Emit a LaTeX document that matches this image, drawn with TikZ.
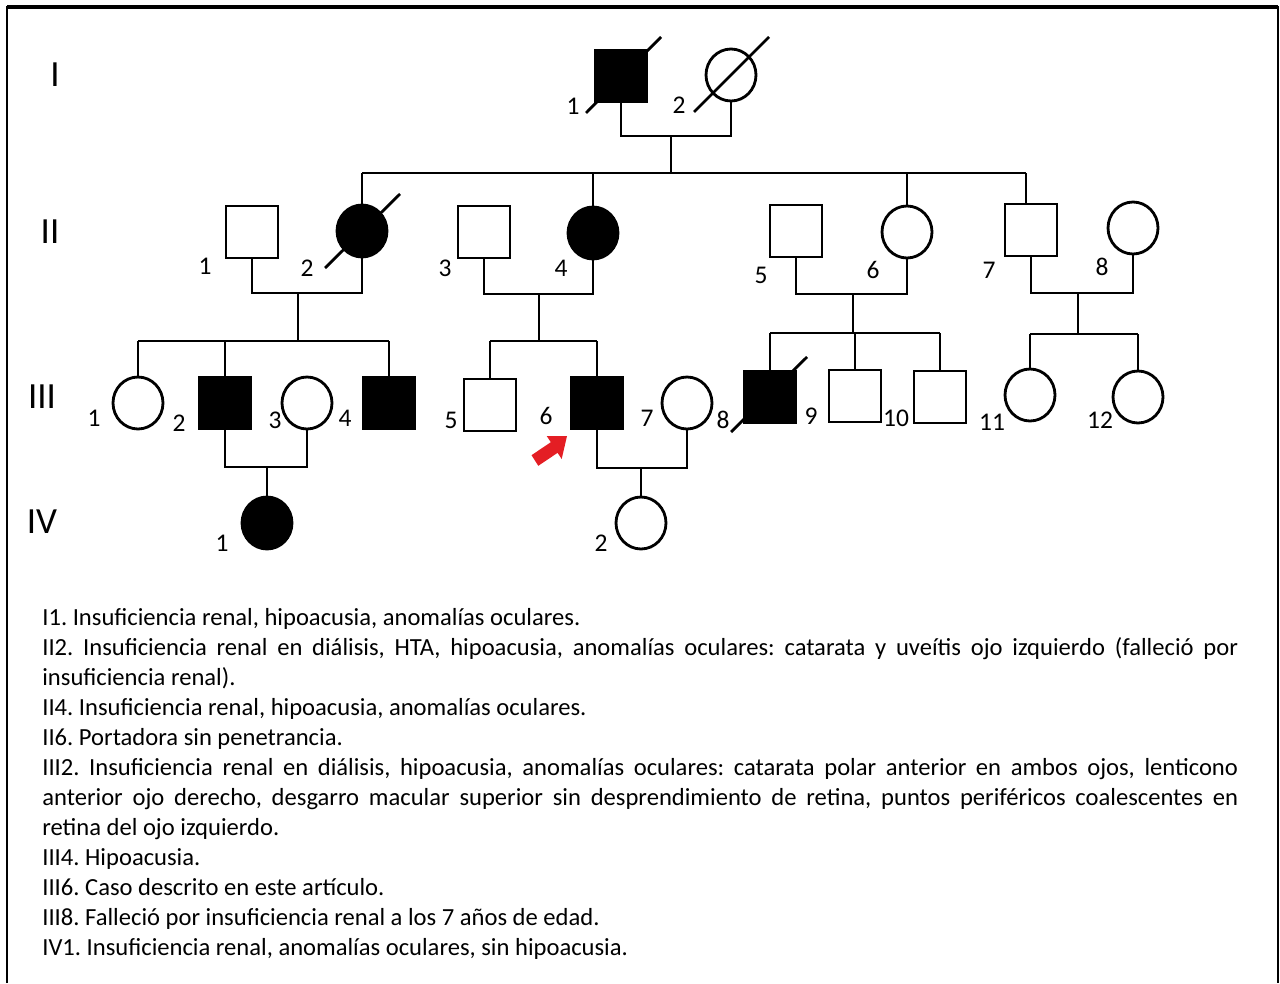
\documentclass[tikz,border=0pt]{standalone}
\usepackage{fontspec}
\setmainfont{Carlito}
\usetikzlibrary{shapes.geometric}
\definecolor{arrowred}{RGB}{228,30,36}
\setlength{\parindent}{0pt}
\frenchspacing

\tikzset{
  male/.style={draw, rectangle, minimum size=1.04cm, inner sep=0pt, line width=1.6pt},
  female/.style={draw, ellipse, minimum width=1cm, minimum height=1.04cm, inner sep=0pt, line width=1.6pt},
  affected/.style={fill=black},
  lbl/.style={font=\fontsize{14.5}{16}\selectfont, inner sep=0pt},
  gen/.style={font=\fontsize{21}{24}\selectfont, inner sep=0pt},
  link/.style={line width=1.6pt},
  dead/.style={line width=1.6pt},
  legend/.style={text width=23.92cm, inner sep=0pt, align=justify,
    font=\fontsize{14}{17.07}\selectfont},
}

\begin{document}
\begin{tikzpicture}[x=0.02cm,y=-0.02cm]
    \useasboundingbox (0,0) rectangle (1280,983);
    % frame
    \draw[line width=1.2pt] (7,983) -- (7,7) -- (1278,7) -- (1278,983);
    \draw[line width=1.8pt] (7,7) -- (1278,7);

    % generations
    \node[gen] (gI) at (55,75) {I};
    \node[gen] (gII) at (50,232) {II};
    \node[gen] (gIII) at (42,397) {III};
    \node[gen] (gIV) at (42,522) {IV};

    % first line
    \node[male,affected] (I1) at (621,76) {};
    \node[female] (I2) at (731,75) {};
    \node[lbl] (nI1) at (573,106) {1};
    \node[lbl] (nI2) at (679,105) {2};
    \draw[dead] ([shift={(-35,37)}]I1.center) -- ([shift={(40,-39)}]I1.center);
    \draw[dead] ([shift={(-37,37)}]I2.center) -- ([shift={(38,-38)}]I2.center);

    % sec line
    \node[male] (II1) at (252,232) {};
    \node[female,affected] (II2) at (362,231) {};
    \node[male] (II3) at (484,232) {};
    \node[female,affected] (II4) at (593,233) {};
    \node[male] (II5) at (796,231) {};
    \node[female] (II6) at (907,232) {};
    \node[male] (II7) at (1031,230) {};
    \node[female] (II8) at (1133,228) {};
    \node[lbl] (nII1) at (205,266) {1};
    \node[lbl] (nII2) at (307,268) {2};
    \node[lbl] (nII3) at (445,268) {3};
    \node[lbl] (nII4) at (561,268) {4};
    \node[lbl] (nII5) at (761,275) {5};
    \node[lbl] (nII6) at (873,270) {6};
    \node[lbl] (nII7) at (989,270) {7};
    \node[lbl] (nII8) at (1102,267) {8};
    \draw[dead] ([shift={(-37,37)}]II2.center) -- ([shift={(38,-37)}]II2.center);

    % third line
    \node[female] (III1) at (138,403) {};
    \node[male,affected] (III2) at (225,403) {};
    \node[female] (III3) at (307,403) {};
    \node[male,affected] (III4) at (389,403) {};
    \node[male] (III5) at (490,405) {};
    \node[male,affected] (III6) at (597,403) {};
    \node[female] (III7) at (687,403) {};
    \node[male,affected] (III8) at (770,397) {};
    \node[male] (III9) at (855,396) {};
    \node[male] (III10) at (940,397) {};
    \node[female] (III11) at (1030,395) {};
    \node[female] (III12) at (1138,397) {};
    \node[lbl] (nIII1) at (94,418) {1};
    \node[lbl] (nIII2) at (179,423) {2};
    \node[lbl] (nIII3) at (275,420) {3};
    \node[lbl] (nIII4) at (345,418) {4};
    \node[lbl] (nIII5) at (451,420) {5};
    \node[lbl] (nIII6) at (546,416) {6};
    \node[lbl] (nIII7) at (647,418) {7};
    \node[lbl] (nIII8) at (723,420) {8};
    \node[lbl] (nIII9) at (811,416) {9};
    \node[lbl] (nIII10) at (896,418) {10};
    \node[lbl] (nIII11) at (992,422) {11};
    \node[lbl] (nIII12) at (1100,420) {12};
    \draw[dead] ([shift={(-39,35)}]III8.center) -- ([shift={(37,-40)}]III8.center);
    % proband arrow
    \coordinate (tip) at (567,436);
    \fill[arrowred] (tip) -- (561.7,459) -- (557.6,452.8) -- (538.3,465.8)
        -- (531.5,455.2) -- (550.8,442.2) -- (546.7,436) -- cycle;

    % fourth line
    \node[female,affected] (IV1) at (267,523) {};
    \node[female] (IV2) at (641,523) {};
    \node[lbl] (nIV1) at (222,543) {1};
    \node[lbl] (nIV2) at (601,543) {2};

    % marriages and sibships
    \coordinate (mI) at (671,136);
    \coordinate (sI) at (671,173);
    \draw[link] (I1.south) |- (mI) -| (I2.south);
    \draw[link] (mI) -- (sI);
    \draw[link] (II2.north |- sI) -- ([xshift=-0.1cm]II7.north |- sI);
    \foreach \n in {II2,II4,II6}
        \draw[link] (\n.north) -- (\n.north |- sI);
    \draw[link] ([xshift=-0.1cm]II7.north) -- ([xshift=-0.1cm]II7.north |- sI);

    \coordinate (mII12) at (298,293);
    \coordinate (sII12) at (298,341);
    \draw[link] (II1.south) |- (mII12) -| (II2.south);
    \draw[link] (mII12) -- (sII12);
    \draw[link] (III1.north |- sII12) -- (III4.north |- sII12);
    \foreach \n in {III1,III2,III4}
        \draw[link] (\n.north) -- (\n.north |- sII12);

    \coordinate (mII34) at (539,294);
    \coordinate (sII34) at (539,341);
    \draw[link] (II3.south) |- (mII34) -| (II4.south);
    \draw[link] (mII34) -- (sII34);
    \draw[link] (III5.north |- sII34) -- (III6.north |- sII34);
    \foreach \n in {III5,III6}
        \draw[link] (\n.north) -- (\n.north |- sII34);

    \coordinate (mII56) at (853,294);
    \coordinate (sII56) at (853,333);
    \draw[link] (II5.south) |- (mII56) -| (II6.south);
    \draw[link] (mII56) -- (sII56);
    \draw[link] (III8.north |- sII56) -- (III10.north |- sII56);
    \foreach \n in {III8,III9,III10}
        \draw[link] (\n.north) -- (\n.north |- sII56);

    \coordinate (mII78) at (1078,293);
    \coordinate (sII78) at (1078,334);
    \draw[link] (II7.south) |- (mII78) -| (II8.south);
    \draw[link] (mII78) -- (sII78);
    \draw[link] (III11.north |- sII78) -- (III12.north |- sII78);
    \foreach \n in {III11,III12}
        \draw[link] (\n.north) -- (\n.north |- sII78);

    \coordinate (mIII23) at (267,467);
    \draw[link] (III2.south) |- (mIII23) -| (III3.south);
    \draw[link] (mIII23) -- (IV1.north);
    \coordinate (mIII67) at (641,468);
    \draw[link] (III6.south) |- (mIII67) -| (III7.south);
    \draw[link] (mIII67) -- (IV2.north);

    % notes
    \node[legend, anchor=north west] (notes) at (42,608) {%
        I1. Insuficiencia renal, hipoacusia, anomalías oculares.\par
        II2. Insuficiencia renal en diálisis, HTA, hipoacusia, anomalías oculares: catarata y uveítis ojo izquierdo (falleció por\linebreak insuficiencia renal).\par
        II4. Insuficiencia renal, hipoacusia, anomalías oculares.\par
        II6. Portadora sin penetrancia.\par
        III2. Insuficiencia renal en diálisis, hipoacusia, anomalías oculares: catarata polar anterior en ambos ojos, lenticono\linebreak anterior ojo derecho, desgarro macular superior sin desprendimiento de retina, puntos periféricos coalescentes en\linebreak retina del ojo izquierdo.\par
        III4. Hipoacusia.\par
        III6. Caso descrito en este artículo.\par
        III8. Falleció por insuficiencia renal a los 7 años de edad.\par
        IV1. Insuficiencia renal, anomalías oculares, sin hipoacusia.};
\end{tikzpicture}
\end{document}
